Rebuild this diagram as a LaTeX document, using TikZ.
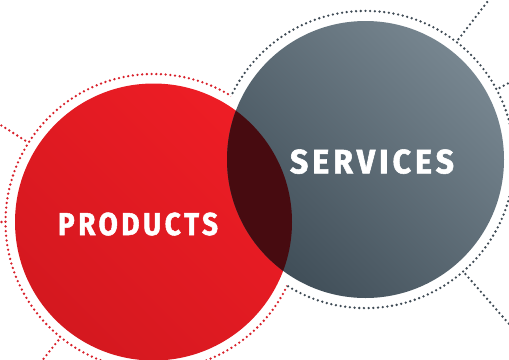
\documentclass[tikz,border=0pt]{standalone}
\usepackage{fontspec}
\setmainfont{Fira Sans}
\newfontfamily\lblfont{Fira Sans}[FakeStretch=0.85,LetterSpace=11,FakeBold=1.6]
\usepackage{graphicx}
\usetikzlibrary{calc}
\definecolor{redlight}{HTML}{EE1D25}
\definecolor{reddark}{HTML}{D4181F}
\definecolor{graylight}{HTML}{778690}
\definecolor{graydark}{HTML}{404E58}
\definecolor{overlapcol}{HTML}{470B10}
\definecolor{reddot}{HTML}{D8202A}
\definecolor{graydot}{HTML}{3F4B55}
\tikzset{
  dotline/.style={line width=2.6pt, line cap=round, dash pattern=on 0pt off 4.7pt},
  reddots/.style={dotline, draw=reddot},
  graydots/.style={dotline, draw=graydot},
  lbl/.style={text=white, inner sep=0pt, anchor=base, font=\lblfont\bfseries}
}
\begin{document}
\begin{tikzpicture}[x=1pt,y=-1pt]
\useasboundingbox (0,0) rectangle (509,359);
\coordinate (R) at (153.5,222);
\coordinate (G) at (365.5,159.5);
\begin{scope}
\clip (0,0) rectangle (509,359);
% dotted rings
\begin{scope}[even odd rule]
  \clip (-20,-20) rectangle (530,380) (G) circle (148.6);
  \draw[reddots] (R) circle (148);
\end{scope}
\begin{scope}[even odd rule]
  \clip (-20,-20) rectangle (530,380) (R) circle (148);
  \draw[graydots] (G) circle (148.6);
\end{scope}
% radial dotted lines
\draw[reddots] ($(R)+(212.4:152)$) -- ($(R)+(212.4:200)$);
\draw[reddots] ($(R)+(180:152)$) -- ($(R)+(180:200)$);
\draw[reddots] ($(R)+(128.8:152)$) -- ($(R)+(128.8:200)$);
\draw[graydots] ($(G)+(-52.3:152)$) -- ($(G)+(-52.3:220)$);
\draw[graydots] ($(G)+(-28.1:152)$) -- ($(G)+(-28.1:220)$);
\draw[graydots] ($(G)+(48.9:152)$) -- ($(G)+(48.9:218)$);
% circles
\shade[top color=redlight, bottom color=reddark, shading angle=-45] (R) circle (138.5);
\shade[top color=graylight, bottom color=graydark, shading angle=-45] (G) circle (138.5);
\begin{scope}
  \clip (R) circle (138.5);
  \fill[overlapcol] (G) circle (138.5);
\end{scope}
\end{scope}
\node[lbl] (prod) at (138,235) {\resizebox{160pt}{22.5pt}{PRODUCTS}};
\node[lbl] (serv) at (372,173.3) {\resizebox{164pt}{24pt}{SERVICES}};
\end{tikzpicture}
\end{document}
